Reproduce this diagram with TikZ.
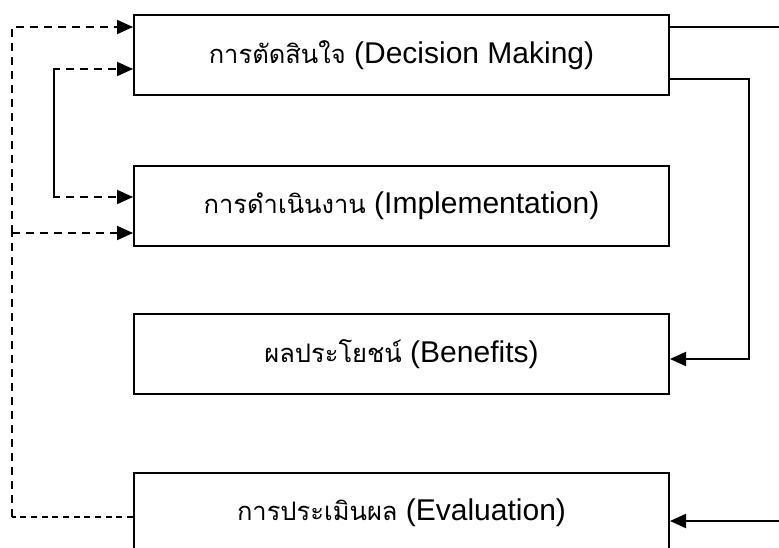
\documentclass[tikz,border=0pt]{standalone}
\usepackage{fontspec}
\setmainfont{Liberation Sans}
\newfontfamily\thaifont[Script=Thai,Scale=0.85]{Loma}
\usetikzlibrary{arrows.meta}
\newcommand{\thai}[1]{{\thaifont #1}}
\tikzset{
  stagebox/.style={draw, line width=1.5pt, minimum width=401.25pt, minimum height=60pt,
    inner sep=0pt, font=\fontsize{22.5}{26}\selectfont},
  sline/.style={line width=1.5pt},
  dline/.style={line width=1.5pt, dash pattern=on 6pt off 4.5pt},
  thinline/.style={line width=0.8pt, dash pattern=on 4.5pt off 3.5pt},
  tip/.style={-{Triangle[length=12pt,width=10.5pt]}}
}
\begin{document}
\begin{tikzpicture}[x=0.75pt, y=-0.75pt]
        \clip (0,0) rectangle (779,547);
        \node [stagebox] (dec) at (401.5,55) {\thai{การตัดสินใจ} (Decision Making)};
        \node [stagebox] (imp) at (401.5,206) {\thai{การดำเนินงาน} (Implementation)};
        \node [stagebox] (ben) at (401.5,354) {\thai{ผลประโยชน์} (Benefits)};
        \node [stagebox] (eva) at (401.5,513) {\thai{การประเมินผล} (Evaluation)};
        \coordinate (o1) at (12,27);
        \coordinate (o2) at (12,233);
        \coordinate (o3) at (12,517);
        \coordinate (i1) at (54,69);
        \coordinate (i2) at (54,197);
        \coordinate (e1) at (779,27);
        \coordinate (e2) at (749,79);
        \coordinate (e3) at (749,359);
        \coordinate (e4) at (779,521);
        % feedback on the left
        \draw [thinline] (eva.west |- o3) to (o3);
        \draw [dline] (o3) to (o2);
        \draw [dline, tip] (o2) to (o1) to (o1 -| dec.west);
        \draw [dline, tip] (o2) to (o2 -| imp.west);
        \draw [dline, tip] (i2) to (i1) to (i1 -| dec.west);
        \draw [dline, tip] (i1) to (i2) to (i2 -| imp.west);
        % flow on the right
        \draw [sline] (e1 -| dec.east) to (e1);
        \draw [sline, tip] (e2 -| dec.east) to (e2) to (e3) to (e3 -| ben.east);
        \draw [sline, tip] (e4) to (e4 -| eva.east);
      \end{tikzpicture}
\end{document}
